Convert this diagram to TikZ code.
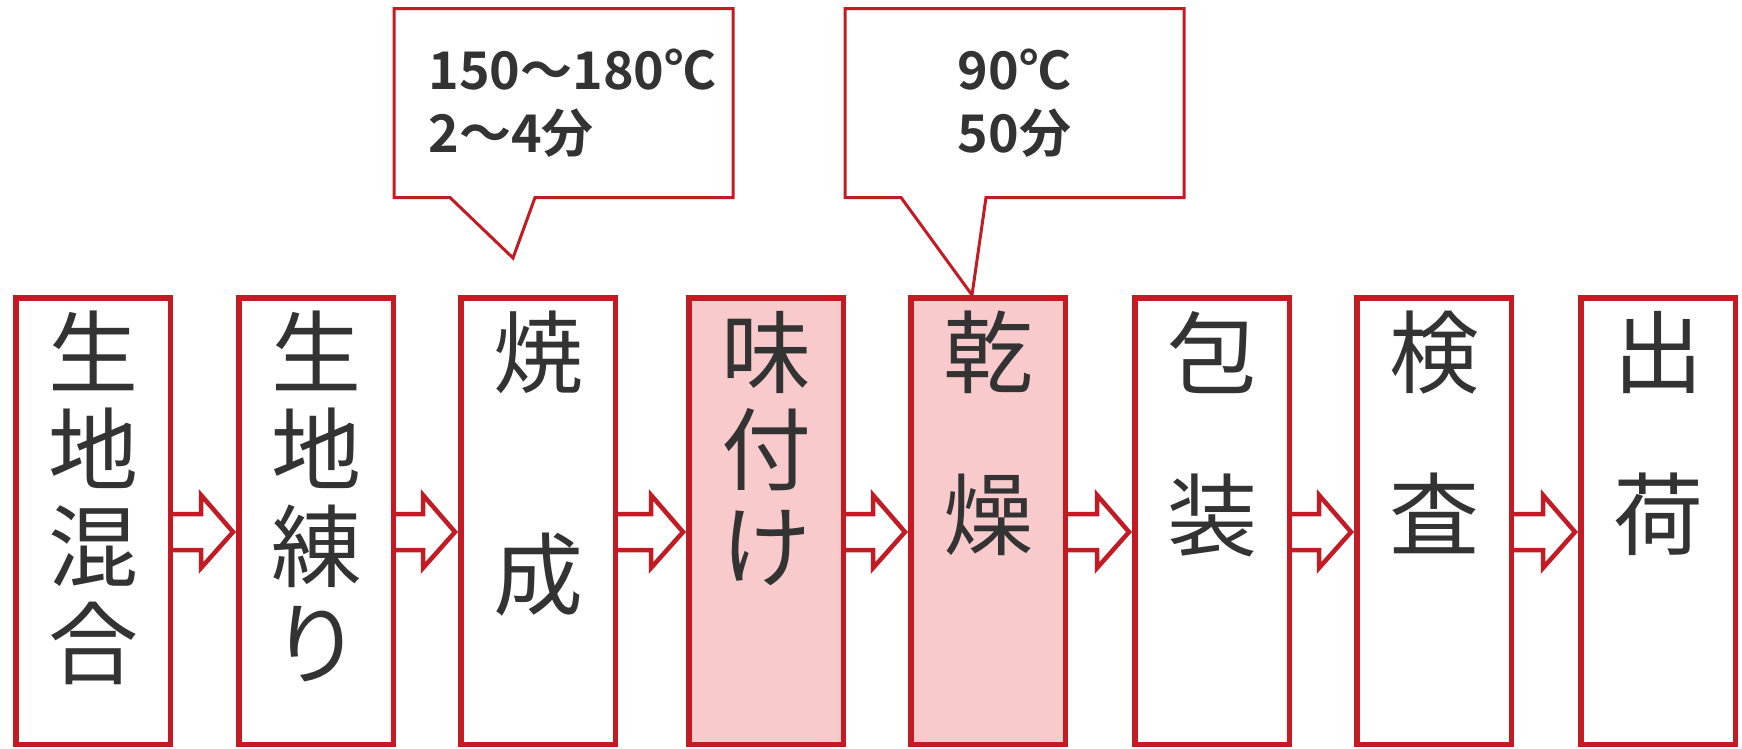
\documentclass[tikz,border=0pt]{standalone}
\usepackage{fontspec}
\usepackage{xcolor}
\usepackage{tikz}
\usetikzlibrary{calc}
\usetikzlibrary{positioning}
\newfontfamily\jpfont{Noto Sans CJK JP}[BoldFont={Noto Sans CJK JP Bold}]
\definecolor{flowred}{HTML}{C31B23}
\definecolor{flowpink}{HTML}{F8CACC}
\definecolor{flowtext}{HTML}{333333}

\begin{document}
\begin{tikzpicture}[x=1pt, y=-1pt]
\tikzset{stepbox/.style = {draw=flowred, line width=5.5pt, minimum width=154.5pt, minimum height=446.5pt, inner sep=0pt, fill=white}}
\tikzset{donebox/.style = {stepbox, fill=flowpink}}
\tikzset{steptext/.style = {inner sep=0pt, align=center, text=flowtext, font=\jpfont\fontsize{90}{#1}\selectfont}, steptext/.default=97}
\tikzset{flowarrow/.style = {draw=flowred, line width=4.5pt, fill=white, line join=miter}}
\tikzset{calloutline/.style = {draw=flowred, line width=3pt, line join=miter}}
\tikzset{callouttext/.style = {inner sep=0pt, outer sep=0pt, align=left, text=flowtext, minimum width=339pt, minimum height=189pt, font=\jpfont\bfseries\fontsize{52}{63}\selectfont}}
	\useasboundingbox (0,0) rectangle (1742,748);

	\node[stepbox] (b1) at (93,521) {};
	\node[stepbox] (b2) at (316,521) {};
	\node[stepbox] (b3) at (538,521) {};
	\node[donebox] (b4) at (766,521) {};
	\node[donebox] (b5) at (988,521) {};
	\node[stepbox] (b6) at (1212,521) {};
	\node[stepbox] (b7) at (1434,521) {};
	\node[stepbox] (b8) at (1658,521) {};

	\node[steptext, below=16pt of b1.north] (t1) {生\\地\\混\\合};
	\node[steptext, below=16pt of b2.north] (t2) {生\\地\\練\\り};
	\node[steptext=222, below=16pt of b3.north] (t3) {焼\\成};
	\node[steptext, below=16pt of b4.north] (t4) {味\\付\\け};
	\node[steptext=162, below=16pt of b5.north] (t5) {乾\\燥};
	\node[steptext=162, below=16pt of b6.north] (t6) {包\\装};
	\node[steptext=162, below=16pt of b7.north] (t7) {検\\査};
	\node[steptext=162, below=16pt of b8.north] (t8) {出\\荷};

	\foreach \a/\b in {b1/b2, b2/b3, b3/b4, b4/b5, b5/b6, b6/b7, b7/b8}
		\draw[flowarrow] ($(\a.east)+(0,-7)$) -- ($(\b.west)+(-35,-7)$) -- ($(\b.west)+(-35,-26)$) -- ($(\b.west)+(-3,11)$) -- ($(\b.west)+(-35,47)$) -- ($(\b.west)+(-35,29)$) -- ($(\a.east)+(0,29)$);

	\node[callouttext] (c1) at (563.5,103) {\hspace*{18pt}150～180℃\\\hspace*{18pt}2～4分};
	\coordinate (p1) at (513,258);
	\draw[calloutline] (c1.south west) -- (c1.north west) -- (c1.north east) -- (c1.south east) -- ($(c1.south west)+(141,0)$) -- (p1) -- ($(c1.south west)+(56,0)$) -- cycle;

	\node[callouttext] (c2) at (1014.5,103) {90℃\\50分};
	\coordinate (p2) at ($(b5.north)+(-16,0)$);
	\draw[calloutline] (c2.south west) -- (c2.north west) -- (c2.north east) -- (c2.south east) -- ($(c2.south west)+(141,0)$) -- (p2) -- ($(c2.south west)+(56,0)$) -- cycle;

\end{tikzpicture}
\end{document}
